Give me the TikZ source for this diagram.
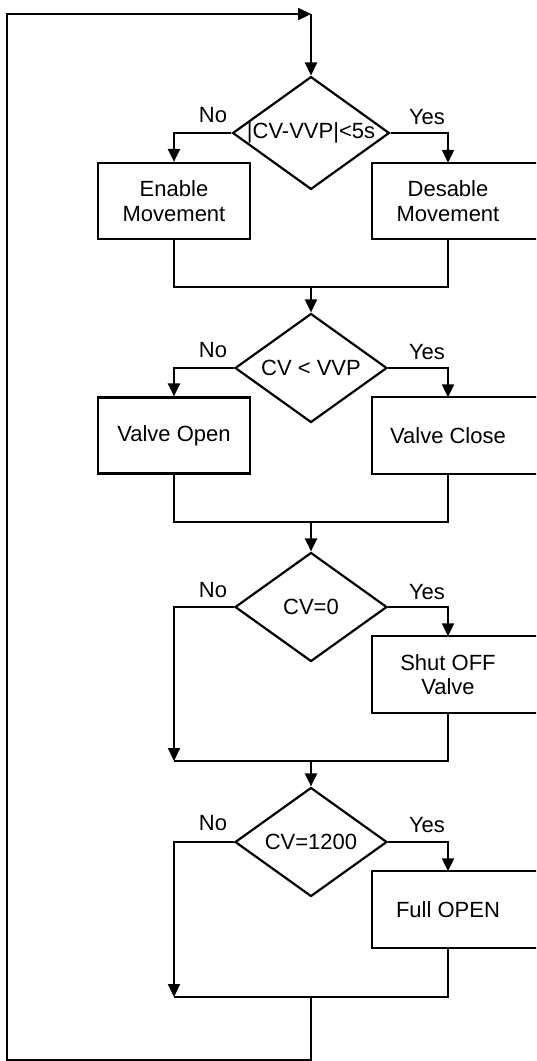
\documentclass[tikz,border=0pt]{standalone}
\usepackage{fontspec}
\setmainfont{Liberation Sans}
\usetikzlibrary{shapes.geometric,arrows.meta}

\tikzset{
  every node/.style={font=\fontsize{22}{24.5}\selectfont},
  line/.style={line width=2.2pt},
  arr/.style={line, -{Triangle[length=13pt,width=12pt]}},
  decision/.style={diamond, draw, line width=2.2pt, inner sep=0pt, aspect=1.39,
                   minimum width=152pt, minimum height=109pt},
  procbox/.style={rectangle, draw, line width=2.2pt, align=center,
                  minimum width=152pt, minimum height=76pt, inner sep=0pt},
  openbox/.style={rectangle, align=center, minimum width=152pt,
                  minimum height=76pt, inner sep=0pt},
  tag/.style={inner sep=0pt}
}

\begin{document}
\begin{tikzpicture}[x=1pt,y=-1pt]
  \clip (0,0) rectangle (536,1061);
  \fill[white] (0,0) rectangle (536,1061);

  % decisions
  \node[decision] (d1) at (311,133) {|CV-VVP|<5s};
  \node[decision] (d2) at (311,368) {CV < VVP};
  \node[decision] (d3) at (311,607) {CV=0};
  \node[decision] (d4) at (311,842) {CV=1200};

  % actions
  \node[procbox] (b1) at (174,201) {Enable\\Movement};
  \node[openbox] (b2) at (448,201) {Desable\\Movement};
  \node[procbox] (b3) at (174,435.5) {Valve Open};
  \node[openbox] (b4) at (448,435.5) {Valve Close};
  \node[openbox] (b5) at (448,674.5) {Shut OFF\\Valve};
  \node[openbox] (b6) at (448,909.5) {Full OPEN};

  % right-hand boxes run out past the right margin
  \foreach \b in {b2,b4,b5,b6}
    \draw[line] ([xshift=40pt]\b.north east) -- (\b.north west)
                -- (\b.south west) -- ([xshift=40pt]\b.south east);

  % branch labels
  \node[tag] (n1) at (213,115) {No};
  \node[tag] (y1) at (427,117) {Yes};
  \node[tag] (n2) at (213,350) {No};
  \node[tag] (y2) at (427,352) {Yes};
  \node[tag] (n3) at (213,590) {No};
  \node[tag] (y3) at (427,592) {Yes};
  \node[tag] (n4) at (213,823) {No};
  \node[tag] (y4) at (427,825) {Yes};

  % junctions
  \coordinate (top) at (311,14);
  \coordinate (m1) at (311,287);
  \coordinate (m2) at (311,522);
  \coordinate (m3) at (311,761);
  \coordinate (l3) at (174,761);
  \coordinate (m4) at (311,997);
  \coordinate (l4) at (174,997);
  \coordinate (bot) at (311,1060);
  \coordinate (lc) at (7,14);

  % stage 1
  \draw[arr] (top) -- (d1.north);
  \draw[arr] (d1.west) -| (b1.north);
  \draw[arr] (d1.east) -| (b2.north);
  \draw[line] (b1.south) |- (m1) -| (b2.south);
  \draw[arr] (m1) -- (d2.north);

  % stage 2
  \draw[arr] (d2.west) -| (b3.north);
  \draw[arr] (d2.east) -| (b4.north);
  \draw[line] (b3.south) |- (m2) -| (b4.south);
  \draw[arr] (m2) -- (d3.north);

  % stage 3
  \draw[arr] (d3.west) -| (l3);
  \draw[arr] (d3.east) -| (b5.north);
  \draw[line] (l3) -| (b5.south);
  \draw[arr] (m3) -- (d4.north);

  % stage 4
  \draw[arr] (d4.west) -| (l4);
  \draw[arr] (d4.east) -| (b6.north);
  \draw[line] (l4) -| (b6.south);

  % loop back to the start
  \draw[arr] (m4) -- (bot) -| (lc) -- (top);
\end{tikzpicture}
\end{document}
